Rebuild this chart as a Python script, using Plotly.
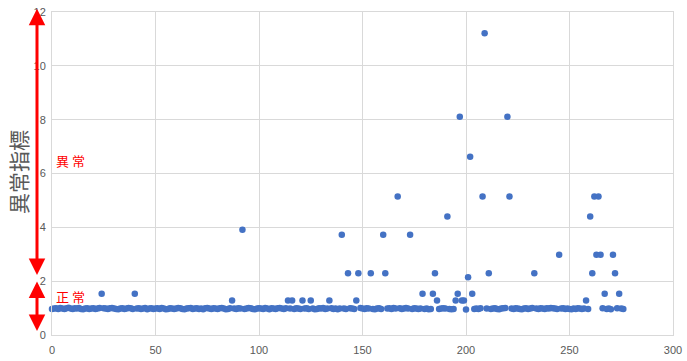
import plotly.graph_objects as go

# anomaly index per sample (x = sample number 0..276)
anomaly_index = [
    0.97, 0.98, 0.99, 0.97, 1.00, 0.98, 0.97, 0.99, 1.01, 0.98, 0.97, 0.99, 0.98, 1.00, 0.97, 0.96, 0.98, 0.99, 0.97, 0.98,
    0.99, 0.97, 0.98, 1.00, 1.53, 0.99, 0.98, 0.97, 0.99, 1.00, 0.98, 0.97, 0.96, 0.98, 0.99, 0.97, 0.98, 1.00, 0.99, 0.97,
    1.53, 0.98, 0.99, 0.97, 0.98, 1.00, 0.96, 0.98, 0.99, 0.97, 0.98, 0.99, 0.97, 1.00, 0.98, 0.96, 0.97, 0.99, 0.98, 0.97,
    0.98, 1.00, 0.99, 0.97, 0.96, 0.98, 0.99, 1.00, 0.97, 0.98, 0.99, 0.97, 0.98, 0.96, 0.99, 1.00, 0.98, 0.97, 0.99, 0.98,
    0.97, 0.99, 1.00, 0.98, 0.96, 0.97, 0.99, 1.28, 0.98, 0.97, 0.99, 0.98, 3.91, 0.97, 0.98, 1.00, 0.99, 0.97, 0.96, 0.98,
    0.99, 0.98, 0.97, 1.00, 0.98, 0.96, 0.99, 0.98, 0.97, 0.99, 1.00, 0.98, 0.97, 0.99, 1.28, 0.98, 1.28, 0.97, 0.99, 0.98,
    0.97, 1.28, 0.98, 0.99, 0.97, 1.28, 0.98, 0.96, 0.97, 0.99, 0.98, 1.00, 0.97, 0.98, 1.28, 0.99, 0.97, 0.98, 0.96, 0.98,
    3.72, 0.98, 0.97, 2.29, 0.99, 0.98, 0.97, 1.28, 2.29, 1.00, 0.98, 0.97, 0.99, 0.98, 2.29, 0.97, 0.96, 0.98, 0.99, 0.97,
    3.72, 2.29, 0.98, 0.99, 0.97, 1.00, 0.98, 5.15, 0.99, 0.97, 0.98, 1.00, 0.98, 3.72, 0.97, 0.99, 0.98, 0.97, 0.98, 1.53,
    0.97, 0.98, 0.96, 0.97, 1.53, 2.29, 1.28, 0.97, 0.98, 0.99, 0.98, 4.40, 0.97, 0.96, 0.97, 1.28, 1.53, 8.11, 1.28, 1.28,
    0.95, 2.15, 6.62, 1.53, 0.97, 0.98, 0.97, 0.99, 5.15, 11.21, 0.98, 2.29, 0.97, 0.98, 0.99, 0.97, 0.96, 0.98, 0.99, 1.00,
    8.11, 5.15, 0.98, 0.97, 0.99, 0.98, 0.97, 0.96, 0.98, 0.99, 0.97, 0.98, 1.00, 2.29, 0.98, 0.97, 0.99, 0.98, 0.97, 0.99,
    0.98, 1.00, 0.99, 0.98, 0.97, 2.98, 0.98, 0.99, 0.97, 0.98, 0.97, 0.96, 0.98, 0.97, 0.99, 0.98, 0.97, 0.98, 1.28, 0.97,
    4.40, 2.29, 5.15, 2.98, 5.15, 2.98, 0.99, 1.53, 0.97, 0.98, 0.96, 2.98, 2.29, 0.99, 1.53, 0.98, 0.97,
]
sample_no = list(range(len(anomaly_index)))

x_ticks = [0, 50, 100, 150, 200, 250, 300]
y_ticks = [0, 2, 4, 6, 8, 10, 12]

axis_title = "異常指標"
label_abnormal = "異 常"
label_normal = "正 常"

BLUE = "#4472C4"
GRID = "#D9D9D9"
TICK = "#595959"
RED = "#FF0000"

fig = go.Figure()
fig.add_trace(go.Scatter(
    x=sample_no, y=anomaly_index, mode="markers",
    marker=dict(color=BLUE, size=6.5, line=dict(width=0)),
    showlegend=False, cliponaxis=False,
))

W, H = 687, 361
ml, mr, mt, mb = 52, 14, 12, 26
pw = W - ml - mr

def px_to_paper_x(px):
    return (px - ml) / pw

annotations = [
    dict(text=axis_title, textangle=-90, xref="paper", yref="paper",
         x=px_to_paper_x(18), y=0.505, xanchor="center", yanchor="middle",
         showarrow=False, font=dict(size=21, color=TICK, family="Noto Sans CJK JP")),
    dict(text=label_abnormal, xref="paper", yref="y", x=px_to_paper_x(70), y=6.5,
         xanchor="center", yanchor="middle", showarrow=False,
         font=dict(size=13, color=RED, family="Noto Sans CJK JP")),
    dict(text=label_normal, xref="paper", yref="y", x=px_to_paper_x(70), y=1.43,
         xanchor="center", yanchor="middle", showarrow=False,
         font=dict(size=13, color=RED, family="Noto Sans CJK JP")),
    # double-headed arrows
    dict(text="", xref="paper", yref="y", x=px_to_paper_x(37), y=12.12,
         axref="pixel", ayref="y", ax=0, ay=2.17,
         showarrow=True, arrowside="end+start", arrowhead=2, startarrowhead=2,
         arrowwidth=3, arrowsize=1.1, startarrowsize=1.1, arrowcolor=RED,
         standoff=0, startstandoff=0),
    dict(text="", xref="paper", yref="y", x=px_to_paper_x(37), y=1.99,
         axref="pixel", ayref="y", ax=0, ay=0.09,
         showarrow=True, arrowside="end+start", arrowhead=2, startarrowhead=2,
         arrowwidth=3, arrowsize=1.1, startarrowsize=1.1, arrowcolor=RED,
         standoff=0, startstandoff=0),
]

fig.update_layout(
    width=W, height=H,
    margin=dict(l=ml, r=mr, t=mt, b=mb),
    paper_bgcolor="white", plot_bgcolor="white",
    font=dict(family="Liberation Sans, Arial", size=11, color=TICK),
    annotations=annotations,
    xaxis=dict(range=[0, 300], tickvals=x_ticks, showgrid=True, gridcolor=GRID, gridwidth=1,
               zeroline=False, showline=True, linecolor=GRID, linewidth=1, mirror=True,
               ticks="outside", ticklen=5, tickcolor="rgba(0,0,0,0)", automargin=False,
               tickfont=dict(size=11, color=TICK)),
    yaxis=dict(range=[0, 12], tickvals=y_ticks, showgrid=True, gridcolor=GRID, gridwidth=1,
               zeroline=False, showline=True, linecolor=GRID, linewidth=1, mirror=True,
               ticks="outside", ticklen=3, tickcolor="rgba(0,0,0,0)", automargin=False,
               tickfont=dict(size=11, color=TICK)),
)

fig.write_html("out.html")
